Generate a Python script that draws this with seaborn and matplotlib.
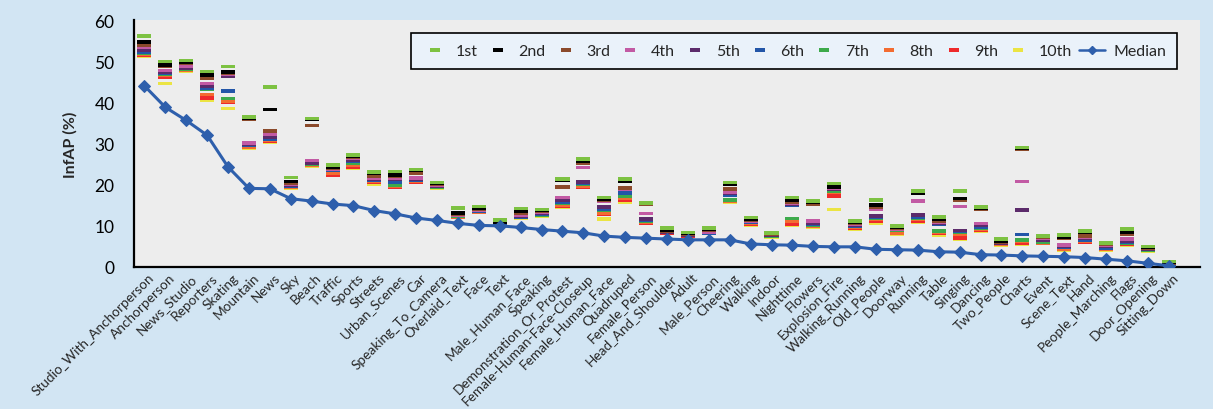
import numpy as np
import pandas as pd
import matplotlib
matplotlib.use("Agg")
import matplotlib.pyplot as plt
import matplotlib.transforms as mtransforms
from matplotlib.lines import Line2D
from matplotlib.markers import MarkerStyle
from matplotlib.path import Path
import seaborn as sns

# ---------------------------------------------------------------- data
categories = [
    "Studio_With_Anchorperson", "Anchorperson", "News_Studio", "Reporters", "Skating",
    "Mountain", "News", "Sky", "Beach", "Traffic", "Sports", "Streets", "Urban_Scenes",
    "Car", "Speaking_To_Camera", "Overlaid_Text", "Face", "Text", "Male_Human_Face",
    "Speaking", "Demonstration_Or_Protest", "Female-Human-Face-Closeup",
    "Female_Human_Face", "Quadruped", "Female_Person", "Head_And_Shoulder", "Adult",
    "Male_Person", "Cheering", "Walking", "Indoor", "Nighttime", "Flowers",
    "Explosion_Fire", "Walking_Running", "Old_People", "Doorway", "Running", "Table",
    "Singing", "Dancing", "Two_People", "Charts", "Event", "Scene_Text", "Hand",
    "People_Marching", "Flags", "Door_Opening", "Sitting_Down",
]

rank_labels = ["1st", "2nd", "3rd", "4th", "5th", "6th", "7th", "8th", "9th", "10th"]

rank_1st = [56.1, 49.9, 50.2, 47.5, 48.7, 36.4, 43.8, 21.7, 36.1, 24.7, 27.2, 23.1, 23.2, 23.7, 20.5, 14.3, 14.7, 11.4, 14.2, 14.0, 21.3, 26.2, 16.9, 21.3, 15.6, 9.4, 8.4, 9.5, 20.5, 12.0, 8.3, 16.9, 16.0, 20.3, 11.2, 16.3, 9.9, 18.4, 12.1, 18.5, 14.5, 6.8, 29.0, 7.6, 7.8, 8.8, 5.9, 9.2, 5.0, 1.3]
rank_2nd = [54.6, 49.0, 49.7, 46.6, 47.4, 36.1, 38.3, 20.8, 35.9, 24.3, 26.8, 22.8, 22.3, 23.4, 20.3, 13.1, 14.2, 11.0, 13.6, 13.8, 21.1, 25.8, 16.5, 20.9, 15.4, 9.0, 8.2, 9.2, 20.1, 11.6, 8.1, 16.3, 15.7, 19.5, 10.8, 15.0, 9.6, 18.0, 11.6, 16.6, 14.4, 6.3, 28.8, 7.4, 7.2, 8.5, 5.7, 8.4, 4.8, 1.1]
rank_3rd = [54.0, 48.8, 49.5, 45.8, 47.1, 35.9, 33.0, 20.3, 34.4, 24.0, 26.6, 22.1, 22.0, 22.8, 20.0, 12.9, 14.0, 10.9, 13.0, 13.5, 19.4, 25.3, 16.2, 19.2, 15.2, 8.7, 8.0, 9.0, 18.9, 11.4, 8.0, 15.8, 15.2, 19.3, 10.6, 14.6, 9.4, 17.9, 11.2, 16.3, 14.1, 6.1, 28.6, 7.2, 6.9, 7.6, 5.5, 8.0, 4.6, 1.0]
rank_4th = [53.4, 47.7, 48.7, 44.6, 46.8, 30.1, 32.2, 20.0, 25.9, 23.8, 26.4, 21.5, 21.6, 21.6, 19.8, 12.7, 13.8, 10.8, 12.5, 13.2, 16.9, 24.2, 15.9, 19.0, 13.0, 8.6, 7.9, 8.5, 18.2, 11.2, 7.9, 15.4, 11.1, 19.1, 10.4, 14.1, 9.3, 16.0, 10.9, 14.7, 10.6, 6.0, 20.8, 7.0, 5.4, 7.2, 5.3, 6.8, 4.5, 0.9]
rank_5th = [52.7, 47.4, 48.4, 43.9, 46.4, 29.8, 31.6, 19.9, 25.3, 23.7, 26.0, 21.3, 21.3, 21.3, 19.7, 12.6, 13.7, 10.8, 12.4, 13.0, 16.2, 20.7, 14.5, 18.8, 11.7, 8.5, 7.8, 8.4, 17.9, 11.1, 7.8, 15.2, 10.6, 18.9, 10.2, 12.4, 9.2, 12.6, 10.7, 8.9, 10.2, 5.9, 13.8, 6.6, 5.1, 6.9, 5.0, 6.3, 4.4, 0.85]
rank_6th = [52.3, 47.2, 48.2, 43.5, 42.7, 29.7, 31.1, 19.7, 25.1, 23.6, 25.7, 21.2, 20.7, 21.1, 19.6, 12.5, 13.6, 10.7, 12.2, 12.8, 15.8, 20.4, 14.1, 17.9, 11.3, 8.5, 7.8, 8.3, 17.5, 10.9, 7.7, 15.0, 10.4, 18.8, 10.0, 12.0, 9.1, 12.2, 10.4, 8.7, 9.6, 5.8, 7.9, 6.4, 4.9, 6.6, 4.6, 6.1, 4.3, 0.8]
rank_7th = [52.0, 46.8, 48.1, 43.2, 40.9, 29.5, 31.0, 19.6, 25.0, 23.4, 25.3, 21.0, 19.9, 21.0, 19.5, 12.4, 13.5, 10.7, 12.1, 12.7, 15.5, 20.1, 13.9, 17.3, 11.1, 8.4, 7.7, 8.3, 16.3, 10.8, 7.6, 11.8, 10.2, 18.4, 9.8, 11.8, 8.9, 11.9, 8.8, 8.5, 9.4, 5.7, 6.5, 6.0, 4.7, 6.4, 4.5, 5.9, 4.2, 0.75]
rank_8th = [51.7, 46.5, 47.9, 41.9, 40.4, 29.1, 30.8, 19.5, 24.8, 22.8, 24.7, 20.8, 19.6, 20.9, 19.4, 12.2, 13.4, 10.6, 12.0, 12.6, 15.0, 19.7, 13.0, 16.7, 10.8, 8.4, 7.7, 8.2, 16.0, 10.6, 7.5, 11.2, 9.9, 18.1, 9.6, 11.5, 8.2, 11.6, 8.5, 7.9, 9.2, 5.6, 6.2, 5.9, 4.4, 6.2, 4.4, 5.7, 4.1, 0.7]
rank_9th = [51.5, 46.1, 47.8, 41.0, 40.0, 29.0, 30.5, 19.4, 24.7, 22.4, 24.2, 20.6, 19.4, 20.7, 19.3, 12.1, 13.3, 10.5, 12.0, 12.5, 14.7, 19.5, 12.8, 16.3, 10.7, 8.3, 7.6, 8.2, 15.9, 10.4, 7.4, 10.4, 9.8, 17.2, 9.4, 11.1, 8.1, 11.2, 8.3, 7.0, 9.0, 5.5, 5.9, 5.8, 4.3, 6.1, 4.3, 5.6, 4.0, 0.65]
rank_10th = [51.2, 44.6, 47.6, 40.6, 38.5, 28.8, 30.4, 19.2, 24.5, 22.2, 24.1, 20.2, 19.3, 20.5, 19.2, 12.0, 13.3, 10.4, 11.9, 12.4, 14.5, 19.3, 11.6, 15.7, 10.6, 8.3, 7.6, 8.1, 15.7, 10.1, 7.3, 10.2, 9.7, 14.0, 9.3, 10.6, 8.0, 10.9, 7.8, 6.8, 8.8, 5.3, 5.6, 5.7, 4.2, 6.0, 4.2, 5.4, 3.8, 0.6]

median = [44.0, 38.8, 35.6, 32.0, 24.3, 19.1, 19.0, 16.6, 16.0, 15.3, 14.9, 13.7, 12.9, 11.9, 11.3, 10.6, 10.1, 10.0, 9.6, 9.1, 8.7, 8.3, 7.5, 7.2, 7.0, 6.8, 6.6, 6.6, 6.6, 5.6, 5.4, 5.3, 5.0, 4.9, 4.9, 4.3, 4.2, 4.1, 3.7, 3.6, 3.0, 2.9, 2.7, 2.6, 2.5, 2.3, 1.9, 1.5, 0.9, 0.3]

rank_series = [rank_1st, rank_2nd, rank_3rd, rank_4th, rank_5th,
               rank_6th, rank_7th, rank_8th, rank_9th, rank_10th]

# ---------------------------------------------------------------- style
rank_colors = ["#7DC242", "#000000", "#8B4A2B", "#C25AA4", "#5C2B6B",
               "#2356A8", "#3DAA4B", "#F36C30", "#EE2A2B", "#EBE443"]
median_color = "#2E5FAC"
fig_bg = "#D2E5F3"
plot_bg = "#EDEDED"
legend_bg = "#EAF2FA"

sns.set_style("white")
plt.rcParams["font.family"] = ["Lato", "DejaVu Sans"]

# long-form table, lowest rank first so the 1st-place marks end up on top
long = pd.DataFrame({
    "pos": np.tile(np.arange(len(categories)), len(rank_labels)),
    "value": np.concatenate(rank_series),
    "rank": np.repeat(rank_labels, len(categories)),
}).iloc[::-1].reset_index(drop=True)

# short horizontal bar used as the rank marker
dash = MarkerStyle(Path([(-0.5, -0.13), (0.5, -0.13), (0.5, 0.13),
                         (-0.5, 0.13), (-0.5, -0.13)], closed=True))
legend_dash = MarkerStyle(Path([(-0.5, -0.2), (0.5, -0.2), (0.5, 0.2),
                                (-0.5, 0.2), (-0.5, -0.2)], closed=True))

fig, ax = plt.subplots(figsize=(12.13, 4.10), dpi=100)
fig.patch.set_facecolor(fig_bg)
fig.subplots_adjust(left=134 / 1213, right=1200 / 1213,
                    top=1 - 21 / 410, bottom=1 - 268 / 410)
ax.set_facecolor(plot_bg)

sns.scatterplot(data=long, x="pos", y="value", hue="rank", hue_order=rank_labels,
                palette=rank_colors, marker=dash, s=102, linewidth=0,
                legend=False, ax=ax, zorder=3)

sns.lineplot(x=np.arange(len(categories)), y=median, color=median_color,
             linewidth=2.2, marker="D", markersize=6.5, markeredgecolor=median_color,
             ax=ax, zorder=4)

# ---------------------------------------------------------------- axes
ax.set_xlim(-0.5, 50.5)
ax.set_ylim(0, 60)
ax.set_yticks(range(0, 61, 10))
ax.tick_params(axis="y", direction="in", length=5, width=1, colors="black",
               labelsize=12.5, pad=14)
ax.set_ylabel("InfAP (%)", fontsize=11.5, fontweight="bold", labelpad=12)
ax.set_xlabel("")

ax.set_xticks(np.arange(len(categories)))
ax.set_xticklabels(categories, rotation=45, ha="right", va="center",
                   rotation_mode="anchor", fontsize=9.8)
ax.tick_params(axis="x", length=0, pad=6)
shift = mtransforms.ScaledTranslation(8 / 100, 0, fig.dpi_scale_trans)
for lbl in ax.get_xticklabels():
    lbl.set_transform(lbl.get_transform() + shift)

for side in ("top", "right"):
    ax.spines[side].set_visible(False)
for side in ("left", "bottom"):
    ax.spines[side].set_color("black")
    ax.spines[side].set_linewidth(1.6)

ax.grid(False)

# ---------------------------------------------------------------- legend
handles = [Line2D([], [], linestyle="none", marker=legend_dash, markersize=7,
                  markerfacecolor=c, markeredgewidth=0) for c in rank_colors]
handles.append(Line2D([], [], color=median_color, linewidth=1.8, marker="D",
                      markersize=4, markeredgecolor=median_color))
leg = ax.legend(handles, rank_labels + ["Median"], loc="upper right",
                bbox_to_anchor=(0.986, 0.98), ncol=11, fontsize=11.5,
                frameon=True, fancybox=False, handlelength=1.6,
                handletextpad=0.5, columnspacing=0.45, borderpad=0.7)
leg.get_frame().set_facecolor(legend_bg)
leg.get_frame().set_edgecolor("black")
leg.get_frame().set_linewidth(1.2)
leg.get_frame().set_alpha(1)

fig.savefig("out.png", dpi=100, facecolor=fig_bg)
